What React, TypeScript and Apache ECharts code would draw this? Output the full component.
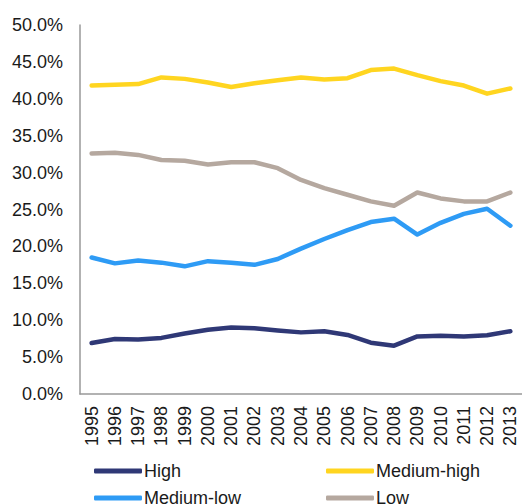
import React, { useEffect, useRef } from "react";
import * as echarts from "echarts";

const years = ["1995","1996","1997","1998","1999","2000","2001","2002","2003","2004","2005","2006","2007","2008","2009","2010","2011","2012","2013"];
const high = [6.9, 7.45, 7.4, 7.6, 8.2, 8.7, 9.0, 8.9, 8.6, 8.35, 8.5, 8.0, 6.95, 6.55, 7.8, 7.9, 7.8, 7.95, 8.5];
const mediumHigh = [41.8, 41.9, 42.0, 42.9, 42.7, 42.2, 41.6, 42.1, 42.5, 42.9, 42.6, 42.8, 43.9, 44.1, 43.2, 42.4, 41.8, 40.7, 41.4];
const mediumLow = [18.5, 17.7, 18.1, 17.8, 17.3, 18.0, 17.8, 17.5, 18.3, 19.7, 21.0, 22.2, 23.3, 23.75, 21.6, 23.2, 24.4, 25.1, 22.8];
const low = [32.6, 32.7, 32.4, 31.7, 31.6, 31.1, 31.4, 31.4, 30.6, 29.0, 27.9, 27.0, 26.1, 25.5, 27.3, 26.5, 26.1, 26.1, 27.3];

const seriesNames = ["High", "Medium-high", "Medium-low", "Low"];
const seriesColors = ["#2F3876", "#FFD520", "#2E9BF5", "#B5A89F"];
const seriesData = [high, mediumHigh, mediumLow, low];

export default function App() {
  const ref = useRef<HTMLDivElement>(null);
  useEffect(() => {
    document.body.style.margin = "0";
    const chart = echarts.init(ref.current!, null, { renderer: "svg" });
    const font = "Liberation Sans, Arial, sans-serif";
    const fs = 18;
    const legendBase = {
      orient: "horizontal",
      padding: 0,
      itemWidth: 48,
      itemHeight: 5,
      icon: "roundRect",
      textStyle: { fontSize: fs, color: "#1a1a1a", fontFamily: font, lineHeight: 22, padding: [0, 0, 0, -3] },
    };
    const legendPos = [
      { left: 94, top: 460 },
      { left: 326, top: 460 },
      { left: 94, top: 487 },
      { left: 326, top: 487 },
    ];
    chart.setOption({
      animation: false,
      backgroundColor: "#ffffff",
      grid: { left: 80, right: -4, top: 25, bottom: 110 },
      legend: seriesNames.map((n, i) => ({ ...legendBase, ...legendPos[i], data: [n] })),
      xAxis: {
        type: "category",
        data: years,
        boundaryGap: true,
        axisLine: { show: true, lineStyle: { color: "#999999", width: 1.5 } },
        axisTick: { show: false },
        axisLabel: { rotate: 90, margin: 12, fontSize: fs, color: "#1a1a1a", fontFamily: font, interval: 0 },
      },
      yAxis: {
        type: "value",
        min: 0,
        max: 50,
        interval: 5,
        axisLine: { show: true, lineStyle: { color: "#999999", width: 1.5 } },
        axisTick: { show: false },
        splitLine: { show: false },
        axisLabel: {
          margin: 17,
          fontSize: fs,
          color: "#1a1a1a",
          fontFamily: font,
          formatter: (v: number) => v.toFixed(1) + "%",
        },
      },
      series: seriesNames.map((name, i) => ({
        name,
        type: "line",
        data: seriesData[i],
        symbol: "none",
        color: seriesColors[i],
        lineStyle: { width: 4.5, color: seriesColors[i], cap: "round", join: "round" },
      })),
    });
    return () => chart.dispose();
  }, []);
  return <div ref={ref} style={{ width: 522, height: 504 }} />;
}
